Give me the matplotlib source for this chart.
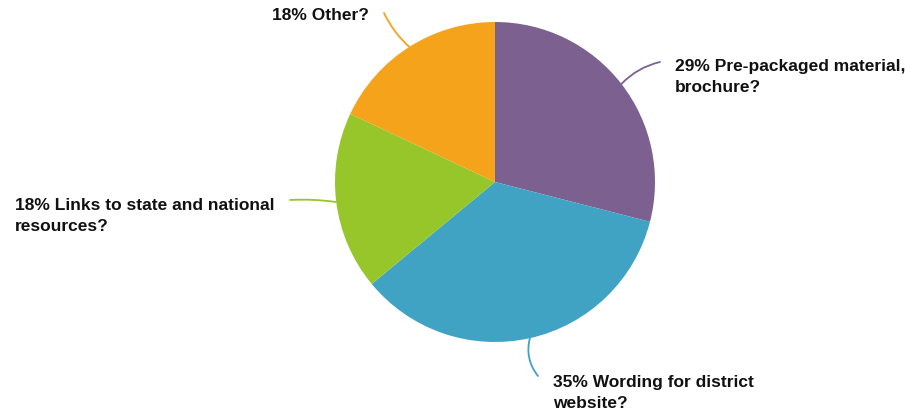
import numpy as np
import matplotlib.pyplot as plt

labels = ["29% Pre-packaged material,\nbrochure?",
          "35% Wording for district\nwebsite?",
          "18% Links to state and national\nresources?",
          "18% Other?"]
shares = [29, 35, 18, 18]
colors = ["#7c6090", "#40a3c4", "#97c62a", "#f5a31b"]

# layout in pixel units (y up)
W, H = 906, 413
cx, cy, r = 495, 413 - 182, 160
leader_ends = [(660, 413 - 62), (538, 413 - 376), (290, 413 - 200), (384, 413 - 13)]
leader_rad = [0.15, -0.25, -0.05, 0.1]
text_pos = [(675, 413 - 77), (553, 413 - 393), (15, 413 - 216), (272, 413 - 16)]

fig = plt.figure(figsize=(W / 100, H / 100), dpi=100)
ax = fig.add_axes([0, 0, 1, 1])
ax.set_xlim(0, W)
ax.set_ylim(0, H)
ax.axis("off")

wedges, _ = ax.pie(shares, colors=colors, startangle=90, counterclock=False,
                   center=(cx, cy), radius=r, wedgeprops=dict(linewidth=0))
ax.set_xlim(0, W)
ax.set_ylim(0, H)
ax.set_aspect("equal")

for w, lab, col, end, rad, tp in zip(wedges, labels, colors, leader_ends, leader_rad, text_pos):
    mid = np.deg2rad((w.theta1 + w.theta2) / 2)
    start = (cx + r * np.cos(mid), cy + r * np.sin(mid))
    ax.annotate("", xy=start, xytext=end,
                arrowprops=dict(arrowstyle="-", color=col, lw=1.3,
                                connectionstyle=f"arc3,rad={rad}",
                                shrinkA=0, shrinkB=0))
    ax.text(tp[0], tp[1], lab, ha="left", va="center", fontsize=12.5,
            fontweight="bold", family="Liberation Sans", color="#111111",
            linespacing=1.45)

fig.savefig("out.png", dpi=100)
